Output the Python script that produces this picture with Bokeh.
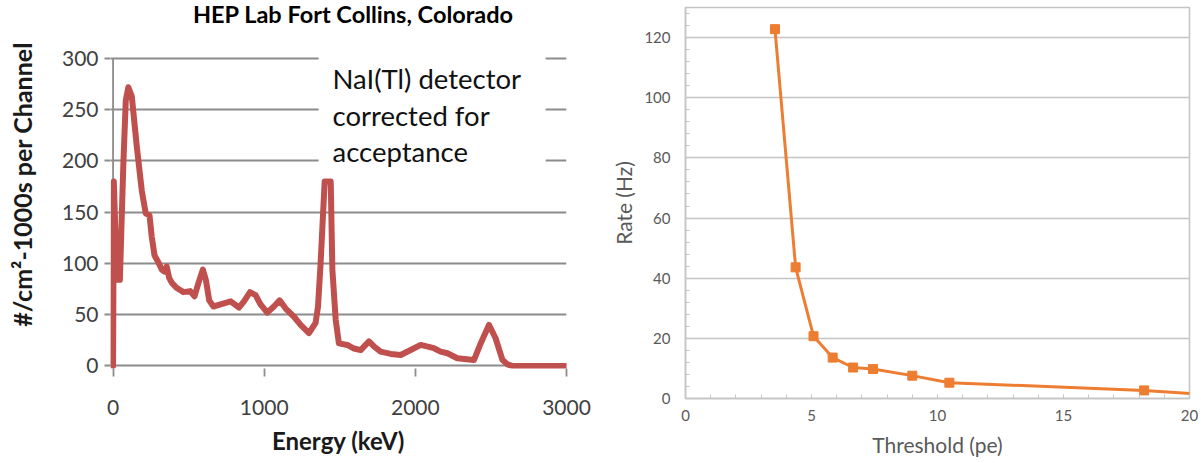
from bokeh.plotting import figure
from bokeh.layouts import row
from bokeh.models import (Label, SingleIntervalTicker, FixedTicker, Range1d, BoxAnnotation)
from bokeh.embed import file_html
from bokeh.resources import INLINE

# ---------------- data: left panel (NaI(Tl) spectrum) ----------------
energy_kev = [0, 5, 25, 45, 68, 84, 101, 124, 157, 190,
              216, 241, 256, 274, 300, 322, 340, 355, 371, 389,
              422, 466, 510, 539, 565, 594, 614, 636, 664, 711,
              778, 833, 866, 906, 943, 976, 1020, 1064, 1102, 1142,
              1197, 1241, 1296, 1340, 1356, 1373, 1400, 1440, 1451, 1473,
              1494, 1550, 1594, 1638, 1693, 1726, 1770, 1837, 1903, 1969,
              2035, 2123, 2167, 2212, 2278, 2388, 2432, 2487, 2531, 2576,
              2609, 2640, 3000]
counts_per_channel = [0, 180, 84, 84, 197, 259, 272, 263, 214, 171,
                      149, 147, 126, 108, 101, 94, 92, 97, 86, 81,
                      76, 72, 73, 68, 81, 94, 84, 64, 58, 60,
                      63, 57, 63, 72, 69, 60, 52, 58, 64, 56,
                      48, 40, 32, 42, 58, 100, 180, 180, 94, 45,
                      22, 20.5, 17, 15.5, 24, 19, 14, 11.7, 10.7, 15.6,
                      20.5, 17.3, 14, 12.4, 7.5, 5.8, 22, 40, 27, 6,
                      1.5, 0, 0]
left_xticks = [0, 1000, 2000, 3000]
left_yticks = [0, 50, 100, 150, 200, 250, 300]
left_title = "HEP Lab Fort Collins, Colorado"
left_xlabel = "Energy (keV)"
left_ylabel = "#/cm\u00b2-1000s per Channel"
note_lines = ["NaI(Tl) detector", "corrected for", "acceptance"]

# ---------------- data: right panel (rate vs threshold) ----------------
threshold_pe = [3.55, 4.37, 5.08, 5.84, 6.65, 7.44, 9.0, 10.47, 18.2]
rate_hz = [122.8, 43.6, 20.7, 13.6, 10.3, 9.8, 7.6, 5.25, 2.7]
curve_tail_pe = [18.2, 20.5]
curve_tail_hz = [2.7, 1.4]
right_xlabel = "Threshold (pe)"
right_ylabel = "Rate (Hz)"

# ---------------- left figure ----------------
# frame reaches the top of the canvas so the chart title can sit inside it
p1 = figure(width=600, height=463, x_range=Range1d(-17, 3000), y_range=Range1d(-2.5, 356.6),
            output_backend="svg", toolbar_location=None,
            min_border_left=110, min_border_right=34, min_border_top=0, min_border_bottom=95)
p1.frame_align = False
p1.background_fill_color = "white"
p1.border_fill_color = "white"
p1.outline_line_color = None
p1.xgrid.visible = False
p1.ygrid.grid_line_color = "#8c8c8c"
p1.ygrid.grid_line_width = 1.8
p1.xaxis.ticker = FixedTicker(ticks=left_xticks)
p1.yaxis.ticker = FixedTicker(ticks=left_yticks)
for ax in (p1.xaxis[0], p1.yaxis[0]):
    ax.axis_line_color = None
    ax.major_tick_line_color = "#8c8c8c"
    ax.major_tick_line_width = 1.8
    ax.major_tick_in = 0
    ax.minor_tick_line_color = None
    ax.major_label_text_font = "Lato"
    ax.major_label_text_font_size = "21px"
    ax.major_label_text_color = "#404040"
    ax.axis_label_text_font = "Lato"
    ax.axis_label_text_font_style = "bold"
    ax.axis_label_text_font_size = "24px"
    ax.axis_label_text_color = "#1a1a1a"
p1.xaxis.major_tick_out = 8
p1.yaxis.major_tick_out = 6
p1.xaxis.major_label_standoff = 23
p1.yaxis.major_label_standoff = 6
p1.xaxis.axis_label = left_xlabel
p1.yaxis.axis_label = left_ylabel
p1.yaxis.axis_label_text_font_size = "25px"
p1.xaxis.axis_label_standoff = 8
p1.yaxis.axis_label_standoff = 22

# vertical axis line at E = 0, from 0 to 300
p1.add_layout(BoxAnnotation(left=-6, right=6, bottom=0, top=300,
                            fill_color="#8c8c8c", fill_alpha=1.0, line_color=None,
                            level="underlay"))

p1.line(energy_kev, counts_per_channel, line_color="#C0504D", line_width=6,
        line_join="round", line_cap="round")

p1.add_layout(BoxAnnotation(left=1360, right=2862, bottom=186, top=310,
                            fill_color="white", fill_alpha=1.0, line_color=None))
for txt, yv in zip(note_lines, [280.4, 244.6, 208.9]):
    p1.add_layout(Label(x=1452, y=yv, text=txt, text_font="Lato", text_font_size="27.5px",
                        text_color="#111111", text_baseline="alphabetic"))

p1.add_layout(Label(x=1590, y=343, text=left_title, text_font="Lato",
                    text_font_style="bold", text_font_size="23.5px", text_color="#000000",
                    text_align="center", text_baseline="middle"))

# ---------------- right figure ----------------
p2 = figure(width=601, height=463, x_range=Range1d(0, 20), y_range=Range1d(0, 130),
            output_backend="svg", toolbar_location=None,
            min_border_left=85, min_border_right=12, min_border_top=7, min_border_bottom=65)
p2.frame_align = False
p2.background_fill_color = "white"
p2.border_fill_color = "white"
p2.outline_line_color = "#c4c4c4"
p2.outline_line_width = 1.5
p2.xgrid.visible = False
p2.ygrid.grid_line_color = "#c4c4c4"
p2.ygrid.grid_line_width = 1.5
p2.xaxis.ticker = SingleIntervalTicker(interval=5, num_minor_ticks=5)
p2.yaxis.ticker = SingleIntervalTicker(interval=20, num_minor_ticks=5)
for ax in (p2.xaxis[0], p2.yaxis[0]):
    ax.axis_line_color = "#c4c4c4"
    ax.axis_line_width = 1.5
    ax.major_tick_line_color = "#c4c4c4"
    ax.minor_tick_line_color = "#c4c4c4"
    ax.major_tick_in = 4
    ax.major_tick_out = 0
    ax.minor_tick_in = 4
    ax.minor_tick_out = 0
    ax.major_label_text_font = "Lato"
    ax.major_label_text_font_size = "15px"
    ax.major_label_text_color = "#595959"
    ax.axis_label_text_font = "Lato"
    ax.axis_label_text_font_style = "normal"
    ax.axis_label_text_font_size = "21px"
    ax.axis_label_text_color = "#595959"
p2.xaxis.major_label_standoff = 11
p2.yaxis.major_label_standoff = 15
p2.xaxis.axis_label = right_xlabel
p2.yaxis.axis_label = right_ylabel
p2.xaxis.axis_label_standoff = 8
p2.yaxis.axis_label_standoff = 5

p2.line(threshold_pe, rate_hz, line_color="#ED7D31", line_width=3, line_join="round")
p2.line(curve_tail_pe, curve_tail_hz, line_color="#ED7D31", line_width=3, line_join="round")
p2.scatter(threshold_pe, rate_hz, marker="square", size=9, fill_color="#ED7D31",
           line_color="#ED7D31")

layout = row(p1, p2)
open("out.html", "w").write(file_html(layout, INLINE))
